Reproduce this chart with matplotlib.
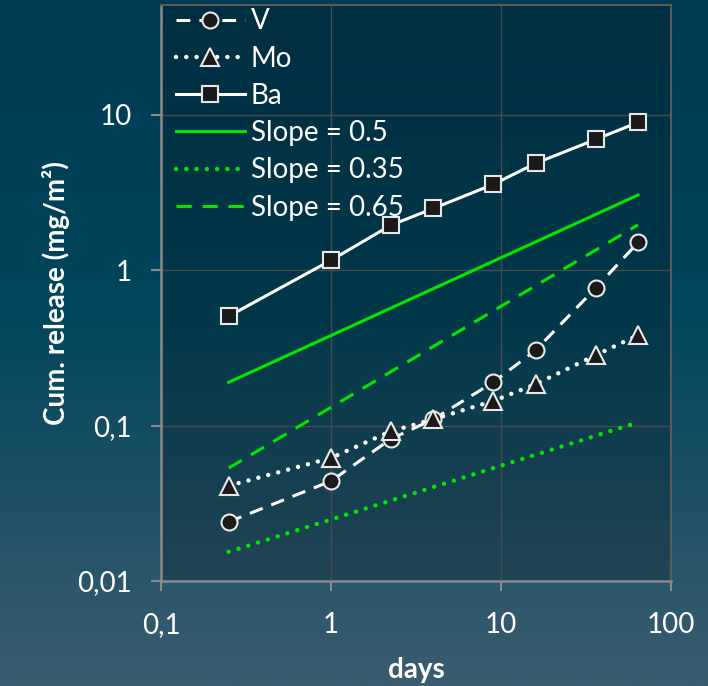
import numpy as np
import matplotlib
matplotlib.use('Agg')
import matplotlib.pyplot as plt
from matplotlib.colors import LinearSegmentedColormap
from matplotlib.ticker import FuncFormatter, NullLocator

plt.rcParams['font.family'] = ['Lato', 'DejaVu Sans']

# 数据
days = [0.25, 1, 2.25, 4, 9, 16, 36, 64]
v_rel = [0.024, 0.044, 0.082, 0.110, 0.19, 0.306, 0.766, 1.51]
mo_rel = [0.041, 0.062, 0.092, 0.110, 0.144, 0.185, 0.284, 0.382]
ba_rel = [0.506, 1.16, 1.95, 2.5, 3.57, 4.88, 6.95, 8.95]

slope_days = [0.25, 64]
slope_05 = [0.19, 3.05]
slope_035 = [0.0154, 0.105]
slope_065 = [0.0533, 1.96]

x_ticks = [0.1, 1, 10, 100]
y_ticks = [0.01, 0.1, 1, 10]

fig = plt.figure(figsize=(7.08, 6.86), dpi=100)

# 背景渐变
bg = fig.add_axes([0, 0, 1, 1], zorder=-10)
cmap = LinearSegmentedColormap.from_list('bg', [(0, '#003b52'), (0.45, '#00465c'), (1, '#3c5c70')])
bg.imshow(np.linspace(0, 1, 256).reshape(-1, 1), aspect='auto', cmap=cmap, extent=[0, 1, 0, 1])
bg.axis('off')

ax = fig.add_axes([161 / 708, 1 - 581 / 686, 510 / 708, 576 / 686])
ax.set_facecolor((0, 0, 0, 0.2))

green = '#00e600'
mk = dict(markerfacecolor='#1a1a1a', markeredgecolor='#e8e8e8', markeredgewidth=1.5)
dotted = (0, (0.01, 2.3))

ax.plot(days, v_rel, color='white', lw=2.2, dashes=(4.5, 3), marker='o', markersize=11.5, label='V', **mk)
ax.plot(days, mo_rel, color='white', lw=3.2, linestyle=dotted, dash_capstyle='round',
        marker='^', markersize=12.5, label='Mo', **mk)
ax.plot(days, ba_rel, color='white', lw=2.2, marker='s', markersize=11.5, label='Ba', **mk)
ax.plot(slope_days, slope_05, color=green, lw=2.2, label='Slope = 0.5')
ax.plot(slope_days, slope_035, color=green, lw=3.2, linestyle=dotted, dash_capstyle='round',
        label='Slope = 0.35')
ax.plot(slope_days, slope_065, color=green, lw=2.2, dashes=(5, 3.5), label='Slope = 0.65')

ax.set_xscale('log')
ax.set_yscale('log')
ax.set_xlim(0.1, 100)
ax.set_ylim(0.01, 10 ** (1 + 110 / 155.5))

fmt = FuncFormatter(lambda v, p: ('%g' % v).replace('.', ','))
ax.set_xticks(x_ticks)
ax.set_yticks(y_ticks)
ax.xaxis.set_major_formatter(fmt)
ax.yaxis.set_major_formatter(fmt)
ax.xaxis.set_minor_locator(NullLocator())
ax.yaxis.set_minor_locator(NullLocator())
ax.tick_params(colors='#8a8a8a', labelcolor='white', labelsize=20, length=7, width=1.5, direction='out')
ax.tick_params(axis='x', pad=15)
ax.tick_params(axis='y', pad=14)

ax.grid(True, color='#4a4a4a', lw=1)
for s in ['left', 'bottom']:
    ax.spines[s].set_color('#8a8a8a')
    ax.spines[s].set_linewidth(1.8)
for s in ['top', 'right']:
    ax.spines[s].set_color('#5a5a5a')
    ax.spines[s].set_linewidth(1.5)

ax.set_xlabel('days', color='white', fontsize=20, fontweight='bold', labelpad=14)
ax.set_ylabel('Cum. release (mg/m²)', color='white', fontsize=20, fontweight='bold', labelpad=5)

leg = ax.legend(loc='upper left', bbox_to_anchor=(0.023, 0.999), frameon=False, fontsize=20,
                handlelength=2.5, handletextpad=0.2, labelspacing=0.405, borderaxespad=0, borderpad=0.1)
for t in leg.get_texts():
    t.set_color('white')

fig.savefig('out.png', dpi=100)
